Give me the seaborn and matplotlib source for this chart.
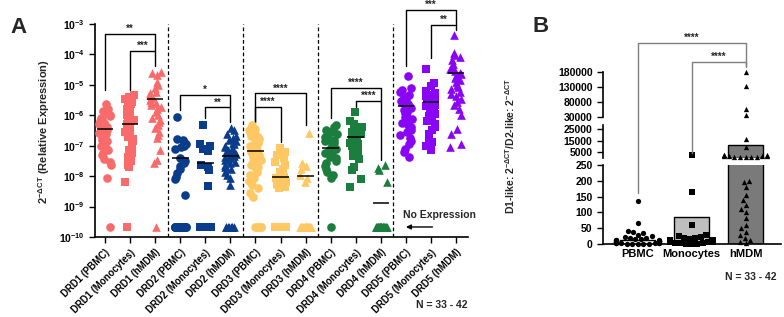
import numpy as np
import seaborn as sns
import matplotlib.pyplot as plt
from matplotlib.lines import Line2D

sns.set_style('ticks')
plt.rcParams['font.family'] = ['Liberation Sans', 'DejaVu Sans']
plt.rcParams['font.weight'] = 'bold'
plt.rcParams['mathtext.fontset'] = 'custom'
plt.rcParams['mathtext.rm'] = 'Liberation Sans'
plt.rcParams['mathtext.bf'] = 'Liberation Sans:bold'
plt.rcParams['mathtext.it'] = 'Liberation Sans:italic'
np.random.seed(3)  # only for the horizontal jitter of the dots

# ---- Panel A data (log10 of 2^-dCT) ----
receptors = ['DRD1', 'DRD2', 'DRD3', 'DRD4', 'DRD5']
cells = ['PBMC', 'Monocytes', 'hMDM']
labels = [f'{r} ({c})' for r in receptors for c in cells]

drd1_pbmc = [-5.62, -5.78, -5.85, -5.93, -6.0, -6.04, -6.1, -6.12, -6.18, -6.25, -6.3, -6.33, -6.4, -6.44,
             -6.47, -6.52, -6.58, -6.62, -6.7, -6.75, -6.8, -6.86, -6.93, -7.0, -7.08, -7.15, -7.25, -7.32,
             -7.45, -7.55, -7.62, -8.06]
drd1_mono = [-5.33, -5.4, -5.48, -5.55, -5.62, -5.7, -5.78, -5.85, -5.9, -5.98, -6.05, -6.1, -6.15, -6.2,
             -6.25, -6.3, -6.33, -6.38, -6.45, -6.5, -6.56, -6.62, -6.7, -6.78, -6.85, -6.95, -7.05, -7.15,
             -7.25, -7.38, -7.5, -7.62, -7.69, -8.2]
drd1_hmdm = [-4.57, -4.62, -4.68, -4.9, -5.0, -5.1, -5.22, -5.28, -5.33, -5.39, -5.44, -5.5, -5.55, -5.61,
             -5.66, -5.72, -5.8, -5.88, -6.0, -6.1, -6.15, -6.21, -6.32, -6.43, -6.54, -6.65, -6.76, -7.14,
             -7.47, -7.58]
drd2_pbmc = [-6.05, -6.78, -6.82, -6.88, -6.93, -7.0, -7.05, -7.12, -7.42, -7.5, -7.58, -7.66, -7.78, -7.9,
             -8.02, -8.1, -8.62]
drd2_mono = [-6.32, -6.95, -7.02, -7.1, -7.18, -7.62, -7.7, -7.8, -8.32]
drd2_hmdm = [-6.42, -6.5, -6.6, -6.68, -6.75, -6.8, -6.86, -6.9, -6.95, -7.0, -7.05, -7.1, -7.14, -7.18,
             -7.22, -7.27, -7.3, -7.34, -7.38, -7.42, -7.47, -7.52, -7.58, -7.64, -7.7, -7.78, -7.85, -7.95,
             -8.05, -8.29]
drd3_pbmc = [-6.32, -6.38, -6.45, -6.5, -6.55, -6.62, -6.68, -6.72, -6.78, -6.85, -6.9, -6.95, -7.0, -7.05,
             -7.1, -7.15, -7.2, -7.25, -7.3, -7.36, -7.42, -7.48, -7.55, -7.62, -7.7, -7.78, -7.86, -7.95,
             -8.05, -8.15, -8.28, -8.4, -8.55, -8.67]
drd3_mono = [-7.09, -7.2, -7.3, -7.42, -7.55, -7.65, -7.75, -7.85, -7.92, -7.98, -8.02, -8.06, -8.1, -8.15,
             -8.2, -8.25, -8.3, -8.35, -8.4]
drd3_hmdm = [-6.57, -7.58, -7.68, -7.78, -7.96, -8.05, -8.18]
drd4_pbmc = [-6.32, -6.4, -6.48, -6.55, -6.62, -6.7, -6.75, -6.8, -6.86, -6.92, -6.97, -7.02, -7.06, -7.1,
             -7.15, -7.2, -7.25, -7.3, -7.36, -7.42, -7.5, -7.58, -7.66, -7.75, -7.85, -7.95, -8.07]
drd4_mono = [-5.88, -6.2, -6.3, -6.38, -6.45, -6.5, -6.55, -6.6, -6.65, -6.7, -6.74, -6.78, -6.82, -6.86,
             -6.9, -6.95, -7.0, -7.05, -7.1, -7.18, -7.25, -7.35, -7.45, -7.7, -7.8, -8.1, -8.35]
drd4_hmdm = [-7.63, -7.72, -7.8, -8.18]
drd5_pbmc = [-4.71, -5.1, -5.18, -5.25, -5.32, -5.4, -5.46, -5.52, -5.58, -5.63, -5.68, -5.72, -5.77, -5.82,
             -5.88, -5.94, -6.0, -6.06, -6.12, -6.18, -6.25, -6.32, -6.4, -6.48, -6.56, -6.65, -6.75, -6.85,
             -6.95, -7.1, -7.22, -7.36]
drd5_mono = [-4.49, -4.95, -5.05, -5.2, -5.26, -5.32, -5.38, -5.44, -5.5, -5.55, -5.6, -5.65, -5.7, -5.76,
             -5.82, -5.88, -5.95, -6.02, -6.1, -6.2, -6.3, -6.4, -6.5, -6.62, -6.75, -6.88, -7.0, -7.14]
drd5_hmdm = [-3.36, -3.96, -4.02, -4.1, -4.18, -4.3, -4.4, -4.48, -4.55, -4.6, -4.66, -4.72, -4.78, -4.85,
             -4.92, -5.0, -5.08, -5.15, -5.22, -5.3, -5.38, -5.46, -5.55, -5.65, -5.8, -6.0, -6.45, -6.62,
             -6.95, -7.05]
series_a = [drd1_pbmc, drd1_mono, drd1_hmdm, drd2_pbmc, drd2_mono, drd2_hmdm, drd3_pbmc, drd3_mono,
            drd3_hmdm, drd4_pbmc, drd4_mono, drd4_hmdm, drd5_pbmc, drd5_mono, drd5_hmdm]
# samples with no expression, drawn at the bottom row
no_expr = [1, 1, 1, 22, 30, 8, 5, 18, 30, 1, 0, 34, 0, 0, 0]
no_expr_level = -9.66
centre_a = [-6.45, -6.30, -5.46, -7.39, -7.56, -7.34, -7.16, -8.02, -7.98, -7.09, -6.72, -8.87, -5.69, -5.55, -4.60]

br_pairs = [(0, 2), (1, 2), (3, 5), (4, 5), (6, 8), (6, 7), (9, 11), (10, 11), (12, 14), (13, 14)]
br_level = [-3.34, -3.89, -5.32, -5.74, -5.28, -5.73, -5.11, -5.52, -2.54, -3.03]
br_left = [-5.17, -5.17, -5.83, -6.09, -6.21, -6.21, -6.09, -5.73, -4.38, -4.13]
br_right = [-3.89, -4.38, -5.74, -6.21, -6.32, -6.87, -5.52, -7.47, -3.03, -3.2]
br_stars = ['**', '***', '*', '**', '****', '****', '****', '****', '***', '**']

colours = {'DRD1': '#F96B6B', 'DRD2': '#0A3C8C', 'DRD3': '#FFC864', 'DRD4': '#1B7D3E', 'DRD5': '#8A04F5'}
markers = {'PBMC': 'o', 'Monocytes': 's', 'hMDM': '^'}

# ---- Panel B data (D1-like / D2-like ratio) ----
b_pbmc = [135, 65, 42, 38, 35, 30, 25, 22, 20, 18, 16, 15, 14, 13, 12, 11, 10, 10, 9, 8, 8, 7, 6, 6,
          5, 5, 4, 4, 3, 3, 2, 2, 1, 1, 0.5, 0.5, 0.2]
b_mono = [2400, 163, 60, 28, 25, 22, 20, 18, 16, 14, 12, 10, 9, 8, 7, 6, 5, 4, 3, 2, 1, 0.5, 0.3]
b_hmdm = [178000, 133000, 56000, 36000, 16300, 9200, 2500, 2200, 2000, 1800, 1500, 1300, 1100, 900, 800,
          600, 500, 400, 200, 197, 181, 155, 140, 125, 110, 102, 81, 60, 50, 39, 28, 20, 13, 7, 3]
b_points = [b_pbmc, b_mono, b_hmdm]
b_bars = [14, 86, 11200]
b_bar_cols = {'PBMC': '#FFFFFF', 'Monocytes': '#BEBEBE', 'hMDM': '#7A7A7A'}

fig = plt.figure(figsize=(7.84, 3.17), dpi=100)

# ================= Panel A =================
ax = fig.add_axes([0.1212, 0.2524, 0.4758, 0.672])
ax.set_yscale('log')
ax.set_ylim(1e-10, 1e-3)
for i, lab in enumerate(labels):
    rec, cell = receptors[i // 3], cells[i % 3]
    vals = list(10 ** np.array(series_a[i])) + [10 ** no_expr_level] * no_expr[i]
    sns.stripplot(x=[lab] * len(vals), y=vals, order=labels, color=colours[rec], marker=markers[cell],
                  size=6.2, linewidth=0, jitter=0.24, ax=ax)
for c in ax.collections:
    c.set_clip_on(False)
ax.hlines(10 ** np.array(centre_a), np.arange(15) - 0.33, np.arange(15) + 0.33, color='k', lw=1.1, zorder=5)
for xv in [2.5, 5.5, 8.5, 11.5]:
    ax.axvline(xv, color='k', lw=0.9, ls=(0, (3, 2)))
ax.set_xlim(-0.4, 14.48)
for (x1, x2), lv, le, ri, st in zip(br_pairs, br_level, br_left, br_right, br_stars):
    ax.plot([x1, x1, x2, x2], [10 ** le, 10 ** lv, 10 ** lv, 10 ** ri], color='k', lw=1, clip_on=False)
    ax.text((x1 + x2) / 2, 10 ** lv, st, ha='center', va='bottom', fontsize=7, fontweight='bold')
yt = [10.0 ** e for e in range(-10, -2)]
ax.set_yticks(yt)
ax.set_yticklabels([rf'$\mathbf{{10^{{{e}}}}}$' for e in range(-10, -2)], fontsize=7.5)
ax.minorticks_off()
ax.set_xticks(range(15))
ax.set_xticklabels(labels, rotation=45, ha='right', rotation_mode='anchor', fontsize=6.9, fontweight='bold')
ax.tick_params(length=4, width=1, colors='k')
for s in ['left', 'bottom']:
    ax.spines[s].set_linewidth(1.2)
    ax.spines[s].set_color('k')
sns.despine(ax=ax)
ax.set_xlabel('')
ax.text(0.826, 0.103, 'No Expression', transform=ax.transAxes, fontsize=7.5, fontweight='bold',
        ha='left', va='center')
ax.annotate('', xy=(0.826, 0.047), xytext=(0.912, 0.047), xycoords='axes fraction',
            arrowprops=dict(arrowstyle='-|>', color='k', lw=1, mutation_scale=7))
fig.text(44 / 784, 1 - 132 / 317, r'$\mathbf{2^{-\Delta CT}}$ (Relative Expression)', rotation=90,
         ha='center', va='center', fontsize=8, fontweight='bold')
fig.text(442 / 784, 1 - 305 / 317, 'N = 33 - 42', ha='center', va='center', fontsize=7.5, fontweight='bold')
fig.text(10 / 784, 1 - 33 / 317, 'A', fontsize=16, fontweight='bold', va='baseline')

# ================= Panel B (broken y axis) =================
ax_top = fig.add_axes([603 / 784, 1 - 117 / 317, 178 / 784, 45.3 / 317])
ax_mid = fig.add_axes([603 / 784, 1 - 157.6 / 317, 178 / 784, 32.6 / 317])
ax_lo = fig.add_axes([603 / 784, 1 - 244 / 317, 178 / 784, 79 / 317])
segs = [(ax_top, (30000, 180000), [30000, 80000, 130000, 180000]),
        (ax_mid, (0, 29000), [5000, 15000, 25000]),
        (ax_lo, (0, 250), [0, 50, 100, 150, 200, 250])]
for a, (lo, hi), ticks in segs:
    lower = 250 if a is ax_mid else lo
    bar_x = [c for c, v in zip(cells, b_bars) if v > lower]
    bar_y = [v for v in b_bars if v > lower]
    if bar_x:
        sns.barplot(x=bar_x, y=bar_y, hue=bar_x, order=cells, palette=b_bar_cols, legend=False,
                    edgecolor='k', linewidth=1, width=0.65, errorbar=None, ax=a)
    for j, cell in enumerate(cells):
        vals = [v for v in b_points[j] if lower <= v <= hi]
        if vals:
            sns.swarmplot(x=[cell] * len(vals), y=vals, order=cells, color='k', marker=markers[cell],
                          size=3.8, linewidth=0, ax=a, warn_thresh=1)
    for c in a.collections:
        c.set_clip_on(False)
    a.set_ylim(lo, hi)
    a.set_xlim(-0.65, 2.66)
    a.set_yticks(ticks)
    a.set_yticklabels([str(t) for t in ticks], fontsize=7.5, fontweight='bold')
    a.tick_params(length=4, width=1, colors='k')
    a.set_xlabel('')
    a.set_ylabel('')
    a.patch.set_alpha(0)
    a.spines['left'].set_linewidth(1.2)
    a.spines['left'].set_color('k')
    sns.despine(ax=a, bottom=(a is not ax_lo))
    if a is not ax_lo:
        a.set_xticks([])
ax_lo.spines['bottom'].set_linewidth(1.2)
ax_lo.spines['bottom'].set_color('k')
ax_lo.set_xticks(range(3))
ax_lo.set_xticklabels(cells, fontsize=8, fontweight='bold')
ax_lo.tick_params(axis='x', length=0)


def to_fig(a, x, y):
    return fig.transFigure.inverted().transform(a.transData.transform((x, y)))


b_pairs = [(0, 2), (1, 2)]
b_level = [276000, 213000]
b_left = [(ax_lo, 160), (ax_mid, 4200)]
b_right = [(ax_top, 202000), (ax_top, 196500)]
for (x1, x2), lv, (al, vl), (ar, vr) in zip(b_pairs, b_level, b_left, b_right):
    p0 = to_fig(al, x1, vl)
    p1 = to_fig(ax_top, x1, lv)
    p2 = to_fig(ax_top, x2, lv)
    p3 = to_fig(ar, x2, vr)
    fig.add_artist(Line2D([p0[0], p1[0], p2[0], p3[0]], [p0[1], p1[1], p2[1], p3[1]],
                          transform=fig.transFigure, color='#7F7F7F', lw=1))
    fig.text((p1[0] + p2[0]) / 2, p1[1], '****', ha='center', va='bottom', fontsize=7, fontweight='bold')

fig.text(510 / 784, 1 - 146 / 317, r'D1-like: $\mathbf{2^{-\Delta CT}}$/D2-like: $\mathbf{2^{-\Delta CT}}$',
         rotation=90, ha='center', va='center', fontsize=7.5, fontweight='bold')
fig.text(751 / 784, 1 - 277 / 317, 'N = 33 - 42', ha='center', va='center', fontsize=7.5, fontweight='bold')
fig.text(532 / 784, 1 - 31.7 / 317, 'B', fontsize=16, fontweight='bold', va='baseline')

fig.savefig('out.png', dpi=100)
